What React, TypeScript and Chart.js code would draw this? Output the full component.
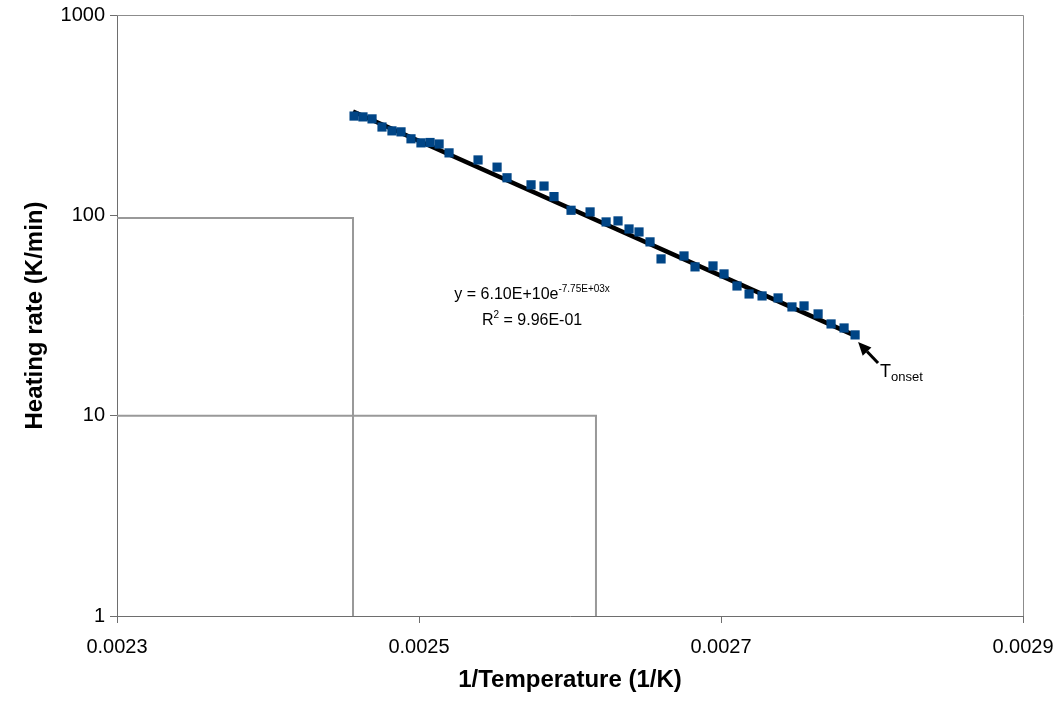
import React, { useEffect, useRef } from "react";
import { Chart, registerables } from "chart.js";

Chart.register(...registerables);

// ---- data ----
const invT: number[] = [
  0.002457, 0.0024629, 0.0024689, 0.0024755, 0.0024821, 0.0024881, 0.0024947, 0.0025013,
  0.0025073, 0.0025133, 0.0025199, 0.0025391, 0.0025517, 0.0025583, 0.0025742, 0.0025828,
  0.0025894, 0.0026007, 0.0026133, 0.0026239, 0.0026318, 0.0026391, 0.0026457, 0.002653,
  0.0026603, 0.0026755, 0.0026828, 0.0026947, 0.002702, 0.0027106, 0.0027186, 0.0027272,
  0.0027378, 0.002747, 0.002755, 0.0027643, 0.0027729, 0.0027815, 0.0027888,
];
const heatingRate: number[] = [
  313, 310, 303, 276, 264, 261, 241, 230,
  231, 227, 205, 189, 174, 154, 142, 140,
  124, 106, 104, 92.7, 93.8, 85.5, 82.6, 73.7,
  60.6, 62.7, 55.3, 55.9, 51.0, 44.4, 40.5, 39.6,
  38.7, 34.9, 35.3, 32.2, 28.7, 27.4, 25.3,
];
const trendX: number[] = [0.0024563, 0.0027888];
const trendY: number[] = [330, 25.1];
const guide1X: number[] = [0.0023, 0.0024563, 0.0024563];
const guide1Y: number[] = [97, 97, 1];
const guide2X: number[] = [0.0023, 0.0026172, 0.0026172];
const guide2Y: number[] = [10, 10, 1];
const xTicks: number[] = [0.0023, 0.0025, 0.0027, 0.0029];
const yTicks: number[] = [1, 10, 100, 1000];
const xTitle = "1/Temperature (1/K)";
const yTitle = "Heating rate (K/min)";
const eqMain = "y = 6.10E+10e";
const eqSup = "-7.75E+03x";
const r2Main = "R";
const r2Sup = "2";
const r2Rest = " = 9.96E-01";
const eqAnchor: number[] = [0.0025749, 38.2];
const r2Anchor: number[] = [0.0025749, 28.4];
const arrowTail: number[] = [0.002804, 18.3];
const arrowTip: number[] = [0.0027908, 23.3];
const onsetMain = "T";
const onsetSub = "onset";

const FONT = 'Arial, "Liberation Sans", sans-serif';

const toPts = (xs: number[], ys: number[]) => xs.map((x, i) => ({ x, y: ys[i] }));

const annotPlugin = {
  id: "annot",
  afterDatasetsDraw(chart: any) {
    const ctx = chart.ctx;
    const xs = chart.scales.x;
    const ys = chart.scales.y;
    const ca = chart.chartArea;
    ctx.save();
    // top & right border
    ctx.strokeStyle = "#8c8c8c";
    ctx.lineWidth = 1;
    ctx.beginPath();
    ctx.moveTo(ca.left, ca.top + 0.5);
    ctx.lineTo(ca.right + 0.5, ca.top + 0.5);
    ctx.lineTo(ca.right + 0.5, ca.bottom);
    ctx.stroke();

    ctx.fillStyle = "#000";
    ctx.textBaseline = "alphabetic";
    // equation
    {
      const cx = xs.getPixelForValue(eqAnchor[0]);
      const cy = ys.getPixelForValue(eqAnchor[1]);
      ctx.font = `16px ${FONT}`;
      const w1 = ctx.measureText(eqMain).width;
      ctx.font = `10px ${FONT}`;
      const w2 = ctx.measureText(eqSup).width;
      const x0 = cx - (w1 + w2) / 2;
      ctx.font = `16px ${FONT}`;
      ctx.textAlign = "left";
      ctx.fillText(eqMain, x0, cy);
      ctx.font = `10px ${FONT}`;
      ctx.fillText(eqSup, x0 + w1, cy - 7);
    }
    {
      const cx = xs.getPixelForValue(r2Anchor[0]);
      const cy = ys.getPixelForValue(r2Anchor[1]);
      ctx.font = `16px ${FONT}`;
      const w1 = ctx.measureText(r2Main).width;
      const w3 = ctx.measureText(r2Rest).width;
      ctx.font = `10px ${FONT}`;
      const w2 = ctx.measureText(r2Sup).width;
      const x0 = cx - (w1 + w2 + w3) / 2;
      ctx.font = `16px ${FONT}`;
      ctx.fillText(r2Main, x0, cy);
      ctx.fillText(r2Rest, x0 + w1 + w2, cy);
      ctx.font = `10px ${FONT}`;
      ctx.fillText(r2Sup, x0 + w1, cy - 7);
    }
    // arrow
    {
      const tx = xs.getPixelForValue(arrowTail[0]);
      const ty = ys.getPixelForValue(arrowTail[1]);
      const hx = xs.getPixelForValue(arrowTip[0]);
      const hy = ys.getPixelForValue(arrowTip[1]);
      const ang = Math.atan2(hy - ty, hx - tx);
      const headLen = 13;
      const bx = hx - headLen * Math.cos(ang);
      const by = hy - headLen * Math.sin(ang);
      ctx.strokeStyle = "#000";
      ctx.lineWidth = 3;
      ctx.beginPath();
      ctx.moveTo(tx, ty);
      ctx.lineTo(bx, by);
      ctx.stroke();
      ctx.beginPath();
      ctx.moveTo(hx, hy);
      ctx.lineTo(bx + 6 * Math.sin(ang), by - 6 * Math.cos(ang));
      ctx.lineTo(bx - 6 * Math.sin(ang), by + 6 * Math.cos(ang));
      ctx.closePath();
      ctx.fill();
      // T onset
      ctx.font = `18px ${FONT}`;
      ctx.textAlign = "left";
      const lx = tx + 2;
      const ly = ty + 14;
      ctx.fillText(onsetMain, lx, ly);
      const wT = ctx.measureText(onsetMain).width;
      ctx.font = `13px ${FONT}`;
      ctx.fillText(onsetSub, lx + wT, ly + 4);
    }
    // axis titles
    ctx.font = `bold 24px ${FONT}`;
    ctx.textAlign = "center";
    ctx.textBaseline = "middle";
    ctx.fillText(xTitle, (ca.left + ca.right) / 2, 680);
    ctx.save();
    ctx.translate(35, (ca.top + ca.bottom) / 2);
    ctx.rotate(-Math.PI / 2);
    ctx.fillText(yTitle, 0, 0);
    ctx.restore();
    ctx.restore();
  },
};

export default function App() {
  const ref = useRef<HTMLCanvasElement | null>(null);
  useEffect(() => {
    if (!ref.current) return;
    const chart = new Chart(ref.current, {
      type: "scatter",
      data: {
        datasets: [
          {
            label: "guide1",
            data: toPts(guide1X, guide1Y),
            showLine: true,
            borderColor: "#999999",
            borderWidth: 2,
            pointRadius: 0,
            fill: false,
          },
          {
            label: "guide2",
            data: toPts(guide2X, guide2Y),
            showLine: true,
            borderColor: "#999999",
            borderWidth: 2,
            pointRadius: 0,
            fill: false,
          },
          {
            label: "data",
            data: toPts(invT, heatingRate),
            pointStyle: "rect",
            pointRadius: 6.5,
            backgroundColor: "#004586",
            borderColor: "#004586",
            borderWidth: 0,
          },
          {
            label: "trend",
            data: toPts(trendX, trendY),
            showLine: true,
            borderColor: "#000000",
            borderWidth: 4.5,
            pointRadius: 0,
            fill: false,
          },
        ],
      },
      options: {
        responsive: false,
        animation: false,
        layout: { padding: { top: 15, right: 39, left: 0, bottom: 0 } },
        plugins: { legend: { display: false }, tooltip: { enabled: false } },
        scales: {
          x: {
            type: "linear",
            min: 0.0023,
            max: 0.0029,
            afterBuildTicks: (s: any) => {
              s.ticks = xTicks.map((v) => ({ value: v }));
            },
            afterFit: (s: any) => {
              s.height = 92;
              s.paddingLeft = 0;
              s.paddingRight = 0;
            },
            ticks: {
              color: "#000",
              font: { family: FONT, size: 20 },
              padding: 12,
              maxRotation: 0,
              callback: (v: any) => Number(v).toFixed(4),
            },
            grid: { drawOnChartArea: false, drawTicks: true, tickLength: 7, color: "#6e6e6e" },
            border: { display: true, color: "#6e6e6e", width: 1 },
          },
          y: {
            type: "logarithmic",
            min: 1,
            max: 1000,
            afterBuildTicks: (s: any) => {
              s.ticks = yTicks.map((v) => ({ value: v }));
            },
            afterFit: (s: any) => {
              s.width = 117;
              s.paddingTop = 0;
              s.paddingBottom = 0;
            },
            ticks: {
              color: "#000",
              font: { family: FONT, size: 20 },
              padding: 5,
              callback: (v: any) => String(v),
            },
            grid: { drawOnChartArea: false, drawTicks: true, tickLength: 7, color: "#6e6e6e" },
            border: { display: true, color: "#6e6e6e", width: 1 },
          },
        },
      },
      plugins: [annotPlugin],
    });
    return () => chart.destroy();
  }, []);
  return (
    <div style={{ position: "fixed", left: 0, top: 0, width: 1062, height: 708, background: "#fff" }}>
      <canvas ref={ref} width={1062} height={708} />
    </div>
  );
}
